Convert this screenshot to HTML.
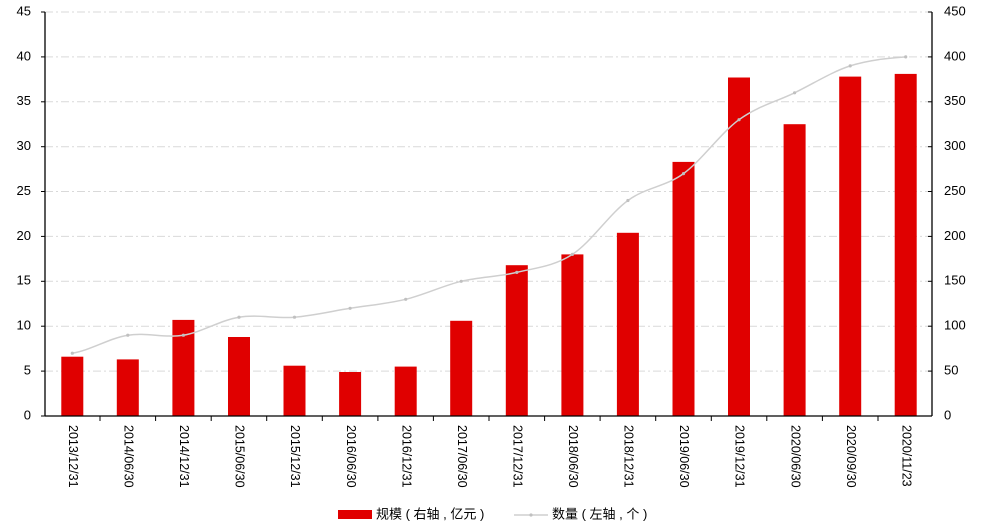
<!DOCTYPE html>
<html><head><meta charset="utf-8"><style>
html,body{margin:0;padding:0;background:#fff;}
svg{display:block;font-family:"Liberation Sans","Noto Sans CJK SC",sans-serif;}
</style></head><body>
<svg width="981" height="531" viewBox="0 0 981 531" xmlns="http://www.w3.org/2000/svg">
<g stroke="#d9d9d9" stroke-width="1" stroke-dasharray="8,3,2,3">
<line x1="45" x2="932" y1="371.1" y2="371.1"/><line x1="45" x2="932" y1="326.2" y2="326.2"/>
<line x1="45" x2="932" y1="281.3" y2="281.3"/><line x1="45" x2="932" y1="236.4" y2="236.4"/>
<line x1="45" x2="932" y1="191.5" y2="191.5"/><line x1="45" x2="932" y1="146.7" y2="146.7"/>
<line x1="45" x2="932" y1="101.8" y2="101.8"/><line x1="45" x2="932" y1="56.9" y2="56.9"/>
<line x1="45" x2="932" y1="12" y2="12"/>
</g>
<g fill="#e00000">
<rect x="61.3" y="356.7" width="22" height="59.3"/><rect x="116.8" y="359.4" width="22" height="56.6"/>
<rect x="172.4" y="319.9" width="22" height="96.1"/><rect x="228" y="337" width="22" height="79"/>
<rect x="283.5" y="365.7" width="22" height="50.3"/><rect x="339.1" y="372" width="22" height="44"/>
<rect x="394.7" y="366.6" width="22" height="49.4"/><rect x="450.2" y="320.8" width="22" height="95.2"/>
<rect x="505.8" y="265.2" width="22" height="150.8"/><rect x="561.4" y="254.4" width="22" height="161.6"/>
<rect x="616.9" y="232.8" width="22" height="183.2"/><rect x="672.5" y="161.9" width="22" height="254.1"/>
<rect x="728" y="77.5" width="22" height="338.5"/><rect x="783.6" y="124.2" width="22" height="291.8"/>
<rect x="839.2" y="76.6" width="22" height="339.4"/><rect x="894.7" y="73.9" width="22" height="342.1"/>
</g>
<path d="M72.3,353.2 C90.8,350.2 109.3,338.2 127.8,335.2 C146.3,332.2 164.9,338.2 183.4,335.2 C201.9,332.2 220.5,320.2 239.0,317.2 C257.5,314.2 276.0,318.7 294.5,317.2 C313.0,315.7 331.6,311.3 350.1,308.3 C368.6,305.3 387.2,303.8 405.7,299.3 C424.2,294.8 442.7,285.8 461.2,281.3 C479.7,276.8 498.3,276.9 516.8,272.4 C535.3,267.9 553.9,266.4 572.4,254.4 C590.9,242.4 609.4,214.0 627.9,200.5 C646.4,187.0 665.0,187.1 683.5,173.6 C702.0,160.1 720.5,133.2 739.0,119.7 C757.5,106.2 776.1,101.8 794.6,92.8 C813.1,83.8 831.7,71.9 850.2,65.9 C868.7,59.9 887.2,58.4 905.7,56.9" fill="none" stroke="#cfcfcf" stroke-width="1.5"/>
<g fill="#c0c0c0">
<circle cx="72.3" cy="353.2" r="1.6"/><circle cx="127.8" cy="335.2" r="1.6"/><circle cx="183.4" cy="335.2" r="1.6"/><circle cx="239" cy="317.2" r="1.6"/><circle cx="294.5" cy="317.2" r="1.6"/><circle cx="350.1" cy="308.3" r="1.6"/><circle cx="405.7" cy="299.3" r="1.6"/><circle cx="461.2" cy="281.3" r="1.6"/><circle cx="516.8" cy="272.4" r="1.6"/><circle cx="572.4" cy="254.4" r="1.6"/><circle cx="627.9" cy="200.5" r="1.6"/><circle cx="683.5" cy="173.6" r="1.6"/><circle cx="739" cy="119.7" r="1.6"/><circle cx="794.6" cy="92.8" r="1.6"/><circle cx="850.2" cy="65.9" r="1.6"/><circle cx="905.7" cy="56.9" r="1.6"/>
</g>
<g stroke="#000" stroke-width="1.3" fill="none">
<line x1="45" y1="12" x2="45" y2="416"/><line x1="932" y1="12" x2="932" y2="416"/>
<line x1="45" y1="416" x2="932" y2="416"/>
</g>
<g stroke="#000" stroke-width="1">
<line x1="41" x2="45" y1="416" y2="416"/><line x1="41" x2="45" y1="371.1" y2="371.1"/><line x1="41" x2="45" y1="326.2" y2="326.2"/><line x1="41" x2="45" y1="281.3" y2="281.3"/><line x1="41" x2="45" y1="236.4" y2="236.4"/><line x1="41" x2="45" y1="191.5" y2="191.5"/><line x1="41" x2="45" y1="146.7" y2="146.7"/><line x1="41" x2="45" y1="101.8" y2="101.8"/><line x1="41" x2="45" y1="56.9" y2="56.9"/><line x1="41" x2="45" y1="12" y2="12"/>
<line x1="928" x2="932" y1="416" y2="416"/><line x1="928" x2="932" y1="371.1" y2="371.1"/><line x1="928" x2="932" y1="326.2" y2="326.2"/><line x1="928" x2="932" y1="281.3" y2="281.3"/><line x1="928" x2="932" y1="236.4" y2="236.4"/><line x1="928" x2="932" y1="191.5" y2="191.5"/><line x1="928" x2="932" y1="146.7" y2="146.7"/><line x1="928" x2="932" y1="101.8" y2="101.8"/><line x1="928" x2="932" y1="56.9" y2="56.9"/><line x1="928" x2="932" y1="12" y2="12"/>
<line x1="100" x2="100" y1="416" y2="421"/><line x1="155.6" x2="155.6" y1="416" y2="421"/><line x1="211.2" x2="211.2" y1="416" y2="421"/><line x1="266.7" x2="266.7" y1="416" y2="421"/><line x1="322.3" x2="322.3" y1="416" y2="421"/><line x1="377.9" x2="377.9" y1="416" y2="421"/><line x1="433.4" x2="433.4" y1="416" y2="421"/><line x1="489" x2="489" y1="416" y2="421"/><line x1="544.6" x2="544.6" y1="416" y2="421"/><line x1="600.1" x2="600.1" y1="416" y2="421"/><line x1="655.7" x2="655.7" y1="416" y2="421"/><line x1="711.3" x2="711.3" y1="416" y2="421"/><line x1="766.8" x2="766.8" y1="416" y2="421"/><line x1="822.4" x2="822.4" y1="416" y2="421"/><line x1="878" x2="878" y1="416" y2="421"/>
</g>
<g font-size="13" fill="#000" text-anchor="end" dominant-baseline="middle">
<text x="31" y="416">0</text><text x="31" y="371.1">5</text><text x="31" y="326.2">10</text><text x="31" y="281.3">15</text><text x="31" y="236.4">20</text><text x="31" y="191.5">25</text><text x="31" y="146.7">30</text><text x="31" y="101.8">35</text><text x="31" y="56.9">40</text><text x="31" y="12">45</text>
</g>
<g font-size="13" fill="#000" text-anchor="start" dominant-baseline="middle">
<text x="944" y="416">0</text><text x="944" y="371.1">50</text><text x="944" y="326.2">100</text><text x="944" y="281.3">150</text><text x="944" y="236.4">200</text><text x="944" y="191.5">250</text><text x="944" y="146.7">300</text><text x="944" y="101.8">350</text><text x="944" y="56.9">400</text><text x="944" y="12">450</text>
</g>
<g font-size="12.5" fill="#000" text-anchor="start" dominant-baseline="middle">
<text transform="translate(72.3,425) rotate(90)">2013/12/31</text>
<text transform="translate(127.8,425) rotate(90)">2014/06/30</text>
<text transform="translate(183.4,425) rotate(90)">2014/12/31</text>
<text transform="translate(239,425) rotate(90)">2015/06/30</text>
<text transform="translate(294.5,425) rotate(90)">2015/12/31</text>
<text transform="translate(350.1,425) rotate(90)">2016/06/30</text>
<text transform="translate(405.7,425) rotate(90)">2016/12/31</text>
<text transform="translate(461.2,425) rotate(90)">2017/06/30</text>
<text transform="translate(516.8,425) rotate(90)">2017/12/31</text>
<text transform="translate(572.4,425) rotate(90)">2018/06/30</text>
<text transform="translate(627.9,425) rotate(90)">2018/12/31</text>
<text transform="translate(683.5,425) rotate(90)">2019/06/30</text>
<text transform="translate(739,425) rotate(90)">2019/12/31</text>
<text transform="translate(794.6,425) rotate(90)">2020/06/30</text>
<text transform="translate(850.2,425) rotate(90)">2020/09/30</text>
<text transform="translate(905.7,425) rotate(90)">2020/11/23</text>
</g>
<rect x="338" y="510" width="34" height="9" fill="#e00000"/>
<text x="376" y="515" font-size="13" dominant-baseline="middle">规模 ( 右轴 , 亿元 )</text>
<line x1="514" x2="548" y1="515" y2="515" stroke="#cfcfcf" stroke-width="1.5"/>
<circle cx="531" cy="515" r="1.6" fill="#c0c0c0"/>
<text x="552" y="515" font-size="13" dominant-baseline="middle">数量 ( 左轴 , 个 )</text>
</svg>
</body></html>
